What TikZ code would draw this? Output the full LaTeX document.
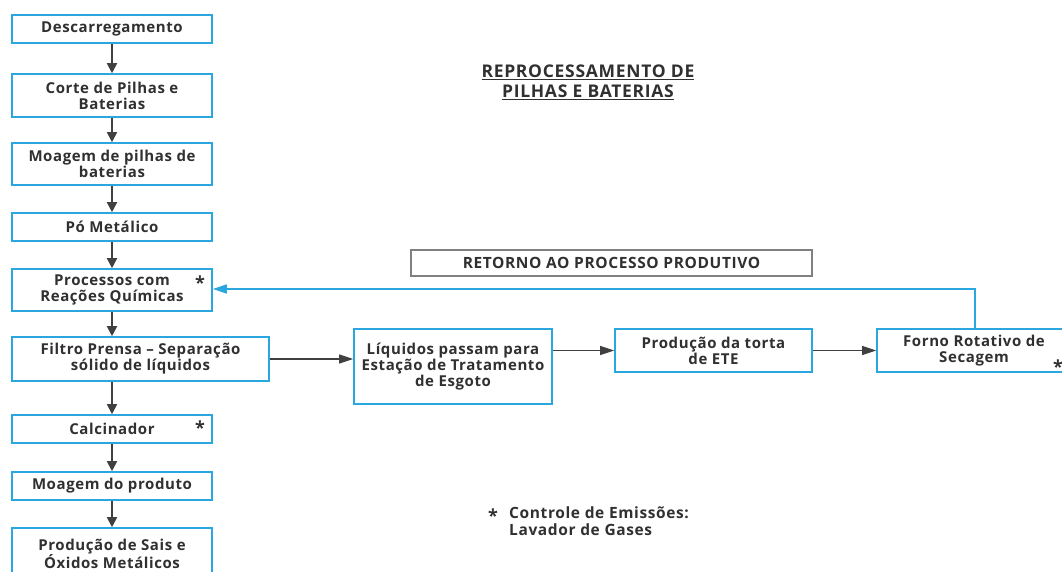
\documentclass[tikz,border=0pt]{standalone}
\usepackage{fontspec}
\setmainfont{Open Sans}[LetterSpace=4]
\usetikzlibrary{arrows.meta}
\definecolor{boxblue}{HTML}{2AA7DF}
\definecolor{ink}{HTML}{303030}
\definecolor{linegray}{HTML}{404040}
\tikzset{
  box/.style={draw=boxblue, line width=1.6pt, fill=white, align=center, text=ink,
    font=\fontsize{15}{16}\selectfont\bfseries, inner sep=0pt, anchor=center},
  flow/.style={draw=linegray, line width=1.8pt, -{Triangle[width=10pt,length=10pt]}},
  hflow/.style={draw=linegray, line width=1.2pt, -{Triangle[width=9pt,length=14pt]}},
  back/.style={draw=boxblue, line width=1.6pt, -{Triangle[width=9pt,length=14pt]}},
  star/.style={font=\fontsize{18}{18}\selectfont\bfseries, text=ink, inner sep=0pt},
  plain/.style={text=ink, font=\fontsize{15.5}{16.5}\selectfont\bfseries, inner sep=0pt}
}
\begin{document}
\begin{tikzpicture}[x=1pt,y=-1pt]
\useasboundingbox (0,0) rectangle (1062,572);
\node[box, minimum width=200pt, minimum height=28pt] (d1) at (112,29) {Descarregamento};
\node[box, minimum width=200pt, minimum height=43pt] (d2) at (112,95.5) {Corte de Pilhas e\\Baterias};
\node[box, minimum width=200pt, minimum height=42pt] (d3) at (112,164) {Moagem de pilhas de\\baterias};
\node[box, minimum width=200pt, minimum height=28pt] (d4) at (112,227) {Pó Metálico};
\node[box, minimum width=200pt, minimum height=42pt] (d5) at (112,290) {Processos com\\Reações Químicas};
\node[box, minimum width=257pt, minimum height=44pt] (d6) at (140.5,359) {Filtro Prensa – Separação\\sólido de líquidos};
\node[box, minimum width=200pt, minimum height=28pt] (d7) at (112,429) {Calcinador};
\node[box, minimum width=200pt, minimum height=28pt] (d8) at (112,486) {Moagem do produto};
\node[box, minimum width=200pt, minimum height=52pt] (d9) at (112,554) {Produção de Sais e\\Óxidos Metálicos};

\node[box, minimum width=198pt, minimum height=75pt] (liq) at (453,366.5) {Líquidos passam para\\Estação de Tratamento\\de Esgoto};
\node[box, minimum width=197pt, minimum height=43pt] (torta) at (713.5,350.5) {Produção da torta\\de ETE};
\node[box, minimum width=194pt, minimum height=43pt] (forno) at (974,350.5) {Forno Rotativo de\\Secagem};
\node[box, draw=gray, line width=1.2pt, minimum width=401pt, minimum height=26pt, font=\fontsize{15.5}{16}\selectfont\bfseries] (ret) at (611.5,263) {RETORNO AO PROCESSO PRODUTIVO};

\node[plain, align=center, font=\fontsize{17.5}{19}\selectfont\bfseries] (title) at (588,82) {\underline{REPROCESSAMENTO DE}\\[1pt]\underline{PILHAS E BATERIAS}};

\node[star] (s1) at (200,283) {*};
\node[star] (s2) at (200,428) {*};
\node[star] (s3) at (1058,367) {*};
\node[star] (s4) at (493,516) {*};
\node[plain, align=left, anchor=west] (leg) at (509,521) {Controle de Emissões:\\Lavador de Gases};

\draw[flow] (d1) -- (d2);
\draw[flow] (d2) -- (d3);
\draw[flow] (d3) -- (d4);
\draw[flow] (d4) -- (d5);
\draw[flow] (d5) -- (d5 |- d6.north);
\draw[flow] (d5 |- d6.south) -- (d7);
\draw[flow] (d7) -- (d8);
\draw[flow] (d8) -- (d9);

\draw[hflow] (d6.east) -- (d6.east -| liq.west);
\draw[hflow] (liq.east |- torta.west) -- (torta.west);
\draw[hflow] (torta.east) -- (forno.west);
\coordinate (up) at (975,289);
\draw[back] (forno.north -| up) -- (up) -- (d5.east |- up);
\end{tikzpicture}
\end{document}
